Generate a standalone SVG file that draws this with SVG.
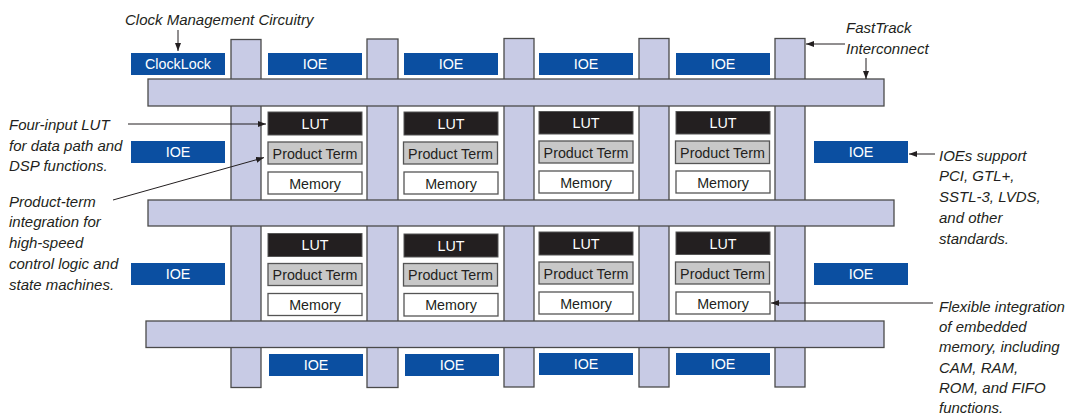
<svg xmlns="http://www.w3.org/2000/svg" width="1066" height="415" viewBox="0 0 1066 415">
<style>
.bar{fill:#c8cbe5;stroke:#4a4a4a;stroke-width:1.3}
.ioe{fill:#0b4fa1}
.lut{fill:#231f20;stroke:#555;stroke-width:1}
.pt{fill:#c8c8c8;stroke:#555;stroke-width:1.3}
.mem{fill:#fff;stroke:#555;stroke-width:1.3}
.lbl{font-family:"Liberation Sans",Arial,sans-serif;font-size:14.3px;text-anchor:middle}
.w{fill:#fff}
.k{fill:#231f20}
.note{font-family:"Liberation Sans",Arial,sans-serif;font-size:15px;font-style:italic;fill:#231f20}
.conn{stroke:#231f20;stroke-width:1;fill:none;marker-end:url(#ah)}
</style>
<defs>
<marker id="ah" markerUnits="userSpaceOnUse" markerWidth="8" markerHeight="6" refX="8" refY="3" orient="auto">
<path d="M0,0 L8,3 L0,6 z" fill="#231f20"/>
</marker>
</defs>
<rect width="1066" height="415" fill="#fff"/>

<g id="columns">
<rect class="bar" x="231" y="39.5" width="30" height="348"/>
<rect class="bar" x="367" y="39" width="31" height="348.5"/>
<rect class="bar" x="504" y="38.5" width="30" height="348.5"/>
<rect class="bar" x="639" y="38.5" width="30" height="348.5"/>
<rect class="bar" x="775" y="38.5" width="30" height="348.5"/>
</g>
<g id="fasttrack-rows">
<rect class="bar" x="148" y="79" width="736" height="27"/>
<rect class="bar" x="148" y="200" width="746" height="26"/>
<rect class="bar" x="146" y="321" width="738" height="26.5"/>
</g>

<g id="clocklock">
<rect class="ioe" x="131" y="53" width="94" height="22"/>
<text class="lbl w" x="178" y="69">ClockLock</text>
</g>
<g id="ioe-top-1"><rect class="ioe" x="268" y="53" width="94" height="22"/><text class="lbl w" x="315" y="69">IOE</text></g>
<g id="ioe-top-2"><rect class="ioe" x="404" y="53" width="94" height="22"/><text class="lbl w" x="451" y="69">IOE</text></g>
<g id="ioe-top-3"><rect class="ioe" x="539" y="53" width="94" height="22"/><text class="lbl w" x="586" y="69">IOE</text></g>
<g id="ioe-top-4"><rect class="ioe" x="676" y="53" width="94" height="22"/><text class="lbl w" x="723" y="69">IOE</text></g>
<g id="ioe-left-1"><rect class="ioe" x="131" y="141" width="94" height="22"/><text class="lbl w" x="178" y="157">IOE</text></g>
<g id="ioe-left-2"><rect class="ioe" x="131" y="263" width="94" height="22"/><text class="lbl w" x="178" y="279">IOE</text></g>
<g id="ioe-right-1"><rect class="ioe" x="814" y="141" width="94" height="22"/><text class="lbl w" x="861" y="157">IOE</text></g>
<g id="ioe-right-2"><rect class="ioe" x="814" y="263" width="94" height="22"/><text class="lbl w" x="861" y="279">IOE</text></g>
<g id="ioe-bot-1"><rect class="ioe" x="269" y="354" width="94" height="22"/><text class="lbl w" x="316" y="370">IOE</text></g>
<g id="ioe-bot-2"><rect class="ioe" x="405" y="354" width="94" height="22"/><text class="lbl w" x="452" y="370">IOE</text></g>
<g id="ioe-bot-3"><rect class="ioe" x="539" y="353" width="94" height="22"/><text class="lbl w" x="586" y="369">IOE</text></g>
<g id="ioe-bot-4"><rect class="ioe" x="676" y="353" width="94" height="22"/><text class="lbl w" x="723" y="369">IOE</text></g>

<g id="lab-1-1">
<rect class="lut" x="268" y="112" width="94" height="23"/><text class="lbl w" x="315" y="129">LUT</text>
<rect class="pt" x="268" y="142" width="94" height="22"/><text class="lbl k" x="315" y="158.5">Product Term</text>
<rect class="mem" x="268" y="172" width="94" height="22"/><text class="lbl k" x="315" y="188.5">Memory</text>
</g>
<g id="lab-1-2">
<rect class="lut" x="404" y="112" width="94" height="23"/><text class="lbl w" x="451" y="129">LUT</text>
<rect class="pt" x="403.5" y="142" width="94" height="22"/><text class="lbl k" x="450.5" y="158.5">Product Term</text>
<rect class="mem" x="404" y="172" width="94" height="22"/><text class="lbl k" x="451" y="188.5">Memory</text>
</g>
<g id="lab-1-3">
<rect class="lut" x="539" y="111.5" width="94" height="22.5"/><text class="lbl w" x="586" y="128">LUT</text>
<rect class="pt" x="539" y="141" width="94" height="22"/><text class="lbl k" x="586" y="157.5">Product Term</text>
<rect class="mem" x="539" y="171" width="94" height="22"/><text class="lbl k" x="586" y="187.5">Memory</text>
</g>
<g id="lab-1-4">
<rect class="lut" x="676" y="111.5" width="94" height="22.5"/><text class="lbl w" x="723" y="128">LUT</text>
<rect class="pt" x="675.5" y="141" width="94" height="22.5"/><text class="lbl k" x="722.5" y="157.5">Product Term</text>
<rect class="mem" x="676" y="171" width="94" height="22"/><text class="lbl k" x="723" y="187.5">Memory</text>
</g>
<g id="lab-2-1">
<rect class="lut" x="268" y="233.5" width="94" height="23"/><text class="lbl w" x="315" y="250">LUT</text>
<rect class="pt" x="268" y="263.5" width="94" height="22"/><text class="lbl k" x="315" y="280">Product Term</text>
<rect class="mem" x="268" y="293.5" width="94" height="22"/><text class="lbl k" x="315" y="310">Memory</text>
</g>
<g id="lab-2-2">
<rect class="lut" x="404" y="234" width="94" height="23"/><text class="lbl w" x="451" y="250.5">LUT</text>
<rect class="pt" x="403.5" y="263.5" width="94" height="22.5"/><text class="lbl k" x="450.5" y="280">Product Term</text>
<rect class="mem" x="404" y="293.5" width="94" height="22.5"/><text class="lbl k" x="451" y="310">Memory</text>
</g>
<g id="lab-2-3">
<rect class="lut" x="539" y="232" width="94" height="23"/><text class="lbl w" x="586" y="248.5">LUT</text>
<rect class="pt" x="539" y="262" width="94" height="22"/><text class="lbl k" x="586" y="278.5">Product Term</text>
<rect class="mem" x="539" y="292" width="94" height="22"/><text class="lbl k" x="586" y="308.5">Memory</text>
</g>
<g id="lab-2-4">
<rect class="lut" x="676" y="232" width="94" height="22.5"/><text class="lbl w" x="723" y="248.5">LUT</text>
<rect class="pt" x="675.5" y="262" width="94" height="22"/><text class="lbl k" x="722.5" y="278.5">Product Term</text>
<rect class="mem" x="676" y="292" width="94" height="22"/><text class="lbl k" x="723" y="308.5">Memory</text>
</g>

<g id="annotations">
<text class="note" x="125" y="25">Clock Management Circuitry</text>
<text class="note" x="846" y="33">FastTrack</text>
<text class="note" x="846" y="54">Interconnect</text>
<text class="note" x="9"><tspan x="9" y="130">Four-input LUT</tspan><tspan x="9" y="150.5">for data path and</tspan><tspan x="9" y="171">DSP functions.</tspan></text>
<text class="note" x="9"><tspan x="9" y="206.5">Product-term</tspan><tspan x="9" y="227.3">integration for</tspan><tspan x="9" y="248.1">high-speed</tspan><tspan x="9" y="268.9">control logic and</tspan><tspan x="9" y="289.7">state machines.</tspan></text>
<text class="note" x="939"><tspan x="939" y="160.5">IOEs support</tspan><tspan x="939" y="181.3">PCI, GTL+,</tspan><tspan x="939" y="202.1">SSTL-3, LVDS,</tspan><tspan x="939" y="222.9">and other</tspan><tspan x="939" y="243.5">standards.</tspan></text>
<text class="note" x="939"><tspan x="939" y="311.7">Flexible integration</tspan><tspan x="939" y="332">of embedded</tspan><tspan x="939" y="352.3">memory, including</tspan><tspan x="939" y="372.6">CAM, RAM,</tspan><tspan x="939" y="392.9">ROM, and FIFO</tspan><tspan x="939" y="413.2">functions.</tspan></text>
</g>

<g id="connectors">
<path class="conn" d="M178,30 L178,51"/>
<path class="conn" d="M128,124 L266,124"/>
<path class="conn" d="M113,200 L264,157.6"/>
<path class="conn" d="M845,44 L806,44"/>
<path class="conn" d="M866,58 L866,79"/>
<path class="conn" d="M935,154 L909,154"/>
<path class="conn" d="M933,303 L771,303"/>
</g>
</svg>
